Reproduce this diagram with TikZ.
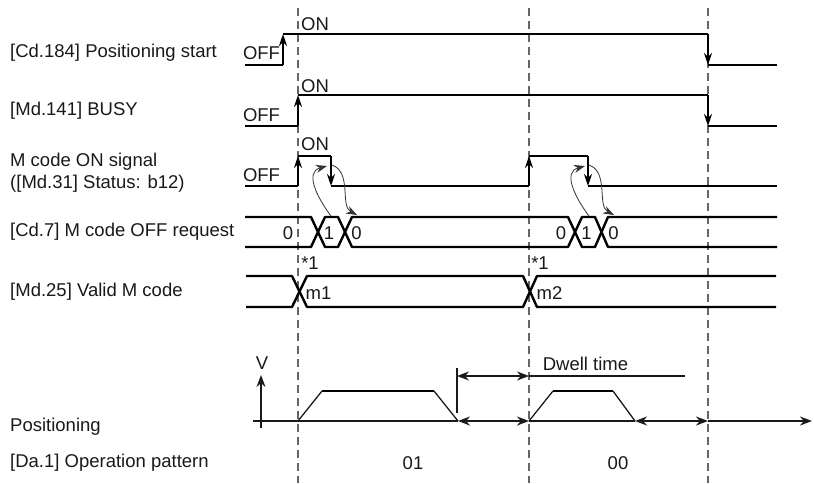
\documentclass[tikz,border=0pt]{standalone}
\usepackage{fontspec}
\setmainfont{Liberation Sans}
\usetikzlibrary{arrows.meta}
\begin{document}
\begin{tikzpicture}[x=1pt,y=-1pt,
  lbl/.style={font=\fontsize{18.5}{20}\selectfont, inner sep=0pt, text=black!90},
  sig/.style={line width=2.4pt, black},
  sigarrow/.style={line width=2.4pt, black, -{Stealth[length=12pt,width=8pt]}},
  guide/.style={line width=1.3pt, black!60, dash pattern=on 8pt off 5pt},
  axis/.style={line width=1.5pt, black!90},
  dblarrow/.style={line width=1.5pt, black!90, {Stealth[length=12pt,width=9pt]}-{Stealth[length=12pt,width=9pt]}},
  onearrow/.style={line width=1.5pt, black!90, -{Stealth[length=12pt,width=9pt]}},
  curv/.style={line width=0.8pt, black!80, -{Stealth[length=11pt,width=8pt]}}]
\useasboundingbox (0,0) rectangle (814,483);
% guides
\coordinate (g1t) at (298,8); \coordinate (g1b) at (298,483);
\coordinate (g2t) at (529,8); \coordinate (g2b) at (529,483);
\coordinate (g3t) at (708,8); \coordinate (g3b) at (708,483);
\draw[guide] (g1t) -- (g1b);
\draw[guide] (g2t) -- (g2b);
\draw[guide] (g3t) -- (g3b);
% left labels
\node[lbl, anchor=west] (l1) at (10,53) {[Cd.184] Positioning start};
\node[lbl, anchor=west] (l2) at (10,111) {[Md.141] BUSY};
\node[lbl, anchor=west] (l3a) at (10,162) {M code ON signal};
\node[lbl, anchor=west] (l3b) at (10,184) {([Md.31] Status: b12)};
\node[lbl, anchor=west] (l4) at (10,232) {[Cd.7] M code OFF request};
\node[lbl, anchor=west] (l5) at (10,292) {[Md.25] Valid M code};
\node[lbl, anchor=west] (l6) at (10,427) {Positioning};
\node[lbl, anchor=west] (l7) at (10,463) {[Da.1] Operation pattern};
% row 1
\draw[sig] (245,65) -- (283,65);
\draw[sigarrow] (283,65) -- (283,34);
\draw[sig] (283,34) -- (708,34);
\draw[sigarrow] (708,34) -- (708,65);
\draw[sig] (708,65) -- (777,65);
\node[lbl] (off1) at (261.5,53) {OFF};
\node[lbl] (on1) at (315,24) {ON};
% row 2
\draw[sig] (245,126) -- (298,126);
\draw[sigarrow] (298,126) -- (298,95);
\draw[sig] (298,95) -- (708,95);
\draw[sigarrow] (708,95) -- (708,126);
\draw[sig] (708,126) -- (777,126);
\node[lbl] (off2) at (261.5,115) {OFF};
\node[lbl] (on2) at (315,86) {ON};
% row 3
\draw[sig] (245,186) -- (298,186);
\draw[sigarrow] (298,186) -- (298,156);
\draw[sig] (298,156) -- (331,156);
\draw[sigarrow] (331,156) -- (331,186);
\draw[sig] (331,186) -- (529,186);
\draw[sigarrow] (529,186) -- (529,156);
\draw[sig] (529,156) -- (588,156);
\draw[sigarrow] (588,156) -- (588,186);
\draw[sig] (588,186) -- (777,186);
\node[lbl] (off3) at (261.5,175) {OFF};
\node[lbl] (on3) at (315,144) {ON};
% row 4 bus
\draw[sig, line join=round] (245,217) -- (311,217) -- (325,247) -- (338,247) -- (352,217) -- (568,217) -- (582,247) -- (595,247) -- (608,217) -- (777,217);
\draw[sig, line join=round] (245,247) -- (311,247) -- (325,217) -- (338,217) -- (352,247) -- (568,247) -- (582,217) -- (595,217) -- (608,247) -- (777,247);
\node[lbl] (c0a) at (288,233) {0};
\node[lbl] (c1a) at (329,233) {1};
\node[lbl] (c0b) at (356.5,233) {0};
\node[lbl] (c0c) at (561,233) {0};
\node[lbl] (c1b) at (586.5,233) {1};
\node[lbl] (c0d) at (613.5,233) {0};
% curved arrows
\draw[curv] (331,216) .. controls (316,196) and (305,172) .. (327,166);
\draw[curv] (332,165) .. controls (352,172) and (340,206) .. (357,215);
\draw[curv] (589,216) .. controls (574,196) and (563,172) .. (585,166);
\draw[curv] (589,165) .. controls (609,172) and (597,206) .. (614,215);
% *1
\node[lbl] (s1) at (310,263) {*1};
\node[lbl] (s2) at (540,263) {*1};
% row 5 bus
\draw[sig, line join=round] (246,276) -- (292,276) -- (307,307) -- (523,307) -- (537,276) -- (776,276);
\draw[sig, line join=round] (246,307) -- (292,307) -- (307,276) -- (523,276) -- (537,307) -- (776,307);
\node[lbl] (m1) at (318.5,293) {m1};
\node[lbl] (m2) at (549.5,293) {m2};
% positioning
\draw[onearrow] (261,428) -- (261,375);
\node[lbl] (v) at (262,363) {V};
\draw[axis] (253,421) -- (458,421);
\draw[dblarrow] (458,421) -- (529,421);
\draw[axis] (529,421) -- (635,421);
\draw[dblarrow] (635,421) -- (708,421);
\draw[onearrow] (708,421) -- (812,421);
\draw[axis, line width=1.3pt] (298,421) -- (322,391);
\draw[line width=2.8pt, black] (322,391) -- (434,391);
\draw[axis, line width=1.3pt] (434,391) -- (458,421);
\draw[axis, line width=1.3pt] (529,421) -- (553,391);
\draw[line width=2.8pt, black] (553,391) -- (613,391);
\draw[axis, line width=1.3pt] (613,391) -- (635,421);
% dwell
\draw[axis] (457,368) -- (457,413);
\draw[dblarrow] (457,376) -- (529,376);
\draw[axis] (529,376) -- (685,376);
\node[lbl] (dw) at (585.5,364) {Dwell time};
% pattern
\node[lbl] (p1) at (413,463) {01};
\node[lbl] (p2) at (618,463) {00};
\end{tikzpicture}
\end{document}
